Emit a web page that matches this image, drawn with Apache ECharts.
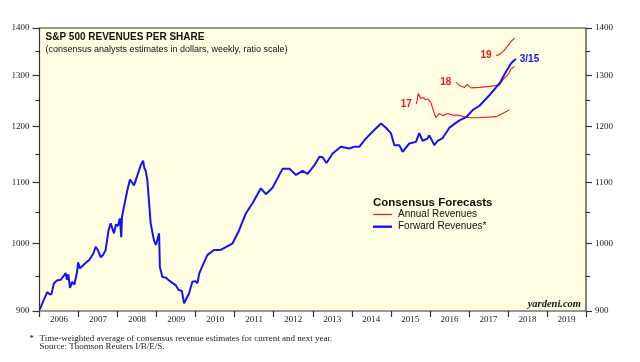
<!DOCTYPE html>
<html>
<head>
<meta charset="utf-8">
<script src="https://cdn.jsdelivr.net/npm/echarts@6/dist/echarts.min.js"></script>
<style>
html,body{margin:0;padding:0;background:#fff;}
#c{width:640px;height:362px;}
</style>
</head>
<body>
<div id="c"></div>
<script>
// ---------- data ----------
const yearLabels = ['2006','2007','2008','2009','2010','2011','2012','2013','2014','2015','2016','2017','2018','2019'];
const yMajorTicks = [900, 1000, 1100, 1200, 1300, 1400];
const yMinorTicks = [950, 1050, 1150, 1250, 1350];

const fwdDates = ['2006-01-03','2006-02-08','2006-03-15','2006-04-04','2006-04-23','2006-05-16','2006-06-13','2006-07-20','2006-09-03','2006-09-15','2006-09-28','2006-10-13','2006-11-03','2006-11-24','2006-12-20','2006-12-28','2007-01-15','2007-03-08','2007-04-13','2007-05-21','2007-06-10','2007-07-01','2007-07-27','2007-08-18','2007-09-12','2007-10-08','2007-10-29','2007-11-29','2007-12-17','2008-01-05','2008-01-23','2008-01-30','2008-02-05','2008-02-12','2008-04-02','2008-04-27','2008-05-16','2008-06-03','2008-07-01','2008-08-05','2008-08-27','2008-09-08','2008-09-21','2008-10-06','2008-11-06','2008-12-07','2008-12-26','2009-01-08','2009-01-24','2009-01-31','2009-02-24','2009-03-30','2009-04-27','2009-05-30','2009-06-29','2009-07-25','2009-08-24','2009-09-15','2009-10-08','2009-10-31','2009-12-01','2009-12-27','2010-01-18','2010-02-03','2010-03-12','2010-04-20','2010-06-22','2010-08-24','2010-10-18','2010-12-11','2011-02-12','2011-04-15','2011-06-17','2011-09-03','2011-10-20','2011-12-21','2012-03-25','2012-05-27','2012-07-28','2012-09-28','2012-11-13','2013-01-16','2013-03-04','2013-04-03','2013-05-09','2013-07-05','2013-09-21','2013-12-08','2014-01-23','2014-03-11','2014-05-12','2014-07-30','2014-10-01','2014-11-16','2015-01-02','2015-02-03','2015-03-21','2015-04-21','2015-06-23','2015-08-24','2015-09-24','2015-10-25','2015-12-11','2015-12-27','2016-02-12','2016-03-14','2016-04-30','2016-07-02','2016-08-02','2016-10-04','2016-12-06','2017-02-07','2017-04-10','2017-07-13','2017-10-14','2017-12-15','2018-01-30','2018-03-15'];
const fwdValues = [902,915,927,924,924,940,944,945,955,945,953,933,942,938,958,971,962,970,975,985,995,990,979,982,990,1020,1032,1016,1030,1028,1040,1043,1010,1043,1087,1105,1100,1095,1110,1130,1138,1125,1120,1104,1032,1005,998,995,1016,964,949,948,944,940,937,930,929,911,918,925,942,943,940,954,968,982,990,990,995,1000,1021,1048,1065,1090,1080,1091,1124,1124,1113,1120,1115,1130,1145,1144,1134,1151,1163,1160,1163,1163,1178,1194,1206,1198,1188,1166,1166,1154,1169,1172,1188,1174,1178,1184,1166,1174,1179,1198,1203,1212,1218,1232,1240,1261,1284,1308,1325,1334];

const y17Dates = ['2015-08-28','2015-09-16','2015-10-08','2015-10-30','2015-11-24','2015-12-16','2016-01-11','2016-02-12','2016-02-27','2016-03-30','2016-05-01','2016-06-17','2016-08-01','2016-09-17','2016-12-06','2017-01-24','2017-03-24','2017-06-10','2017-09-12','2017-11-29','2018-01-15'];
const y17Values = [1243,1264,1254,1256,1252,1253,1246,1225,1217,1225,1221,1225,1222,1222,1218,1217,1217,1218,1219,1227,1232];

const y18Dates = ['2016-09-01','2016-10-04','2016-11-21','2016-12-14','2017-01-22','2017-04-10','2017-07-13','2017-10-14','2017-11-14','2017-12-31','2018-01-30','2018-02-16','2018-03-03'];
const y18Values = [1286,1280,1276,1282,1275,1276,1278,1281,1291,1301,1313,1310,1318];

const y19Dates = ['2017-09-12','2017-10-04','2017-10-27','2017-11-26','2017-12-27','2018-01-28','2018-03-03'];
const y19Values = [1342,1342,1346,1352,1361,1370,1378];

// ---------- chart ----------
const SERIF = '"Liberation Serif", "Times New Roman", serif';
const SANS = '"Liberation Sans", Arial, sans-serif';
const BLUE = '#1414F0';
const RED = '#F01818';
const AX = '#333333';

function pairs(d, v) { return d.map((x, i) => [x, v[i]]); }

function annual(dates, vals, tag) {
  return {
    type: 'line', name: 'Annual Revenues', xAxisIndex: 0, yAxisIndex: 0,
    data: pairs(dates, vals), symbol: 'none', showSymbol: false,
    lineStyle: { color: RED, width: 1.1 }, itemStyle: { color: RED },
    z: 3,
    markPoint: {
      symbol: 'circle', symbolSize: 1, itemStyle: { color: 'rgba(0,0,0,0)' },
      label: { show: true, position: 'left', distance: 4, formatter: tag, color: RED, fontSize: 10, fontWeight: 'bold', fontFamily: SANS },
      data: [{ coord: [dates[0], vals[0]] }]
    }
  };
}

const yBase = { type: 'log', logBase: 10, min: 900, max: 1400, splitLine: { show: false }, axisLine: { show: false } };
const lblFmt = v => String(Math.round(v));

const chart = echarts.init(document.getElementById('c'), null, { renderer: 'canvas' });
chart.setOption({
  animation: false,
  backgroundColor: '#ffffff',
  grid: { left: 39.5, right: 54, top: 28, bottom: 51, show: true, backgroundColor: '#FFFDE2', borderColor: AX, borderWidth: 1.2 },
  xAxis: [
    { type: 'time', min: '2006-01-01', max: '2020-01-01', axisLine: { show: false }, axisTick: { show: false }, axisLabel: { show: false }, splitLine: { show: false } },
    { type: 'category', data: yearLabels, position: 'bottom', boundaryGap: true, axisLine: { show: false },
      axisTick: { show: true, interval: 0, length: 6, lineStyle: { color: AX, width: 1.2 } },
      axisLabel: { interval: 0, margin: 4.5, fontSize: 9, fontFamily: SERIF, color: '#222' }, splitLine: { show: false } }
  ],
  yAxis: [
    Object.assign({}, yBase, { position: 'left',
      axisTick: { show: true, customValues: yMajorTicks, length: 7, lineStyle: { color: AX, width: 1.2 } },
      axisLabel: { show: true, customValues: yMajorTicks, formatter: lblFmt, margin: 10, fontSize: 9, fontFamily: SERIF, color: '#222' } }),
    Object.assign({}, yBase, { position: 'left',
      axisTick: { show: true, customValues: yMinorTicks, length: 4, lineStyle: { color: AX, width: 1.2 } },
      axisLabel: { show: false } }),
    Object.assign({}, yBase, { position: 'right',
      axisTick: { show: true, customValues: yMajorTicks, length: 6, lineStyle: { color: AX, width: 1.2 } },
      axisLabel: { show: true, customValues: yMajorTicks, formatter: lblFmt, margin: 9, fontSize: 9, fontFamily: SERIF, color: '#222' } }),
    Object.assign({}, yBase, { position: 'right',
      axisTick: { show: true, customValues: yMinorTicks, length: 4, lineStyle: { color: AX, width: 1.2 } },
      axisLabel: { show: false } })
  ],
  legend: {
    data: [
      { name: 'Annual Revenues', icon: 'path://M0,0H19V1.2H0Z' },
      { name: 'Forward Revenues*', icon: 'path://M0,0H19V2.4H0Z' }
    ],
    orient: 'vertical', left: 373, top: 209.5, padding: 0, itemWidth: 19, itemHeight: 10, itemGap: 2.2,
    textStyle: { fontSize: 10, fontFamily: SANS, color: '#111', lineHeight: 10, padding: [0, 0, 0, 1] },
    selectedMode: false
  },
  series: [
    annual(y17Dates, y17Values, '17'),
    annual(y18Dates, y18Values, '18'),
    annual(y19Dates, y19Values, '19'),
    {
      type: 'line', name: 'Forward Revenues*', xAxisIndex: 0, yAxisIndex: 0,
      data: pairs(fwdDates, fwdValues), symbol: 'none', showSymbol: false,
      lineStyle: { color: BLUE, width: 2 }, itemStyle: { color: BLUE }, z: 4,
      endLabel: { show: true, formatter: '3/15', color: BLUE, fontSize: 10, fontWeight: 'bold', fontFamily: SANS, distance: 4 }
    }
  ],
  graphic: [
    { type: 'text', left: 45.5, top: 32, z: 10, style: { text: 'S&P 500 REVENUES PER SHARE', font: 'bold 10px ' + SANS, fill: '#111' } },
    { type: 'text', left: 45.5, top: 45, z: 10, style: { text: '(consensus analysts estimates in dollars, weekly, ratio scale)', font: '9px ' + SANS, fill: '#111' } },
    { type: 'text', left: 373, top: 197, z: 10, style: { text: 'Consensus Forecasts', font: 'bold 11.5px ' + SANS, fill: '#111' } },
    { type: 'text', right: 59, top: 299, z: 10, style: { text: 'yardeni.com', font: 'italic bold 10.5px ' + SERIF, fill: '#111' } },
    { type: 'text', left: 29.5, top: 334.5, z: 10, style: { text: '*', font: '9px ' + SERIF, fill: '#222' } },
    { type: 'text', left: 39.5, top: 334.5, z: 10, style: { text: 'Time-weighted average of consensus revenue estimates for current and next year.', font: '9px ' + SERIF, fill: '#222' } },
    { type: 'text', left: 39.5, top: 342.5, z: 10, style: { text: 'Source: Thomson Reuters I/B/E/S.', font: '9px ' + SERIF, fill: '#222' } }
  ]
});
</script>
</body>
</html>
